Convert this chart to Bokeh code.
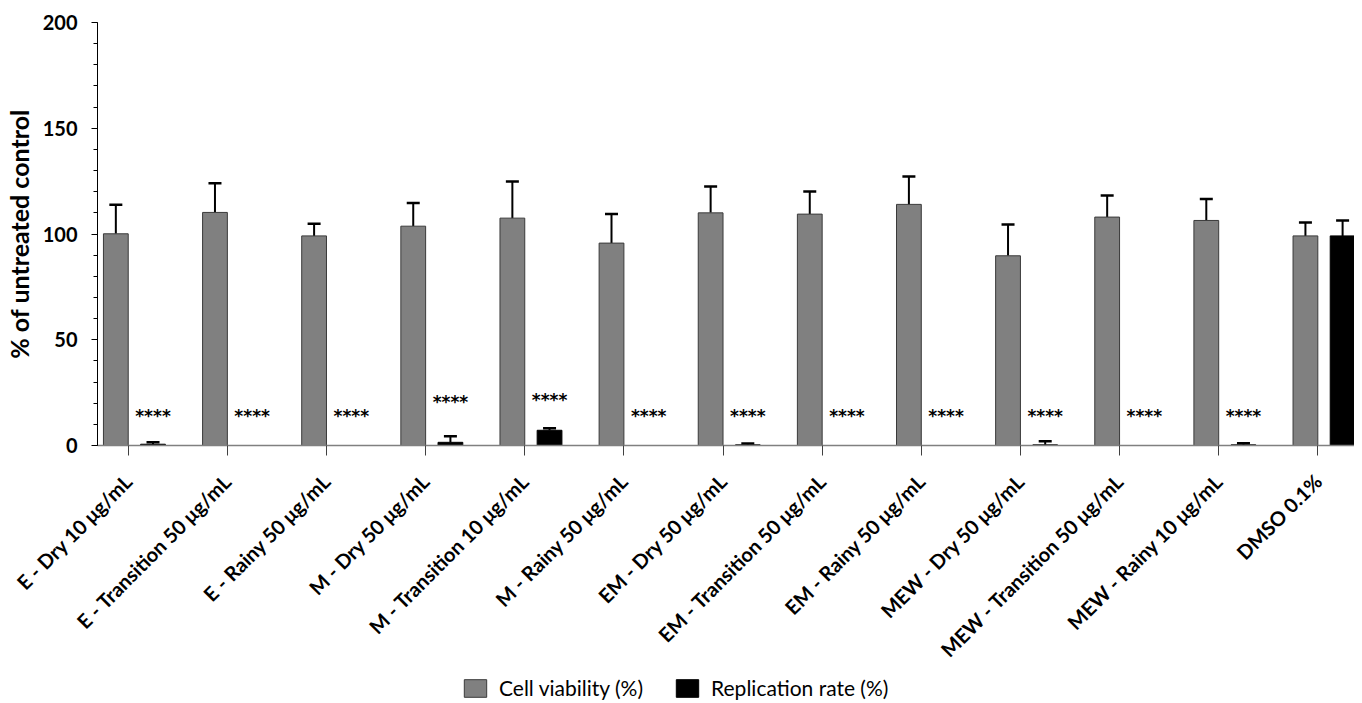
import math
import numpy as np
from bokeh.plotting import figure
from bokeh.layouts import column
from bokeh.models import (ColumnDataSource, FixedTicker, SingleIntervalTicker, Whisker,
                          TeeHead, Legend, LegendItem, Range1d)
from bokeh.core.properties import value
from bokeh.embed import file_html
from bokeh.resources import INLINE

# ---------------- data ----------------
categories = ["E - Dry 10 \u03bcg/mL", "E - Transition 50 \u03bcg/mL", "E - Rainy 50 \u03bcg/mL",
              "M - Dry 50 \u03bcg/mL", "M - Transition 10 \u03bcg/mL", "M - Rainy 50 \u03bcg/mL",
              "EM - Dry 50 \u03bcg/mL", "EM - Transition 50 \u03bcg/mL", "EM - Rainy 50 \u03bcg/mL",
              "MEW - Dry 50 \u03bcg/mL", "MEW - Transition 50 \u03bcg/mL", "MEW - Rainy 10 \u03bcg/mL",
              "DMSO 0.1%"]
viability = [100.1, 110.2, 99.1, 103.7, 107.5, 95.7, 110.0, 109.4, 114.0, 89.7, 108.0, 106.4, 99.1]
viability_sd = [13.7, 13.8, 5.7, 11.0, 17.3, 13.8, 12.5, 10.7, 13.2, 14.8, 10.2, 10.2, 6.3]
replication = [0.6, 0.0, 0.0, 1.5, 7.2, 0.0, 0.3, 0.0, 0.0, 0.3, 0.0, 0.3, 99.1]
replication_sd = [0.9, 0.0, 0.0, 2.9, 0.9, 0.0, 0.7, 0.0, 0.0, 1.7, 0.0, 0.8, 7.3]
significance = ["****"] * 12 + [""]
significance_y = [16, 16, 16, 22.5, 23.5, 16, 16, 16, 16, 16, 16, 16, 0]
series_names = ["Cell viability (%)", "Replication rate (%)"]

FONT = "Lato"
GRAY = "#808080"
TOTAL_W = 1346

idx = np.arange(len(categories))
bar_w = 0.25
x_via = idx - bar_w / 2
x_rep = idx + 0.125 + bar_w / 2

src_via = ColumnDataSource(dict(x=x_via, top=viability,
                                upper=np.array(viability) + np.array(viability_sd)))
src_rep = ColumnDataSource(dict(x=x_rep, top=replication,
                                upper=np.array(replication) + np.array(replication_sd)))
mask = np.array(replication_sd) > 0
src_rep_err = ColumnDataSource(dict(x=x_rep[mask], lower=np.array(replication)[mask],
                                    upper=(np.array(replication) + np.array(replication_sd))[mask]))
smask = np.array([s != "" for s in significance])
src_sig = ColumnDataSource(dict(x=x_rep[smask], y=np.array(significance_y)[smask],
                                t=[s for s in significance if s]))

p = figure(frame_width=1257, frame_height=423, output_backend="svg", toolbar_location=None,
           x_range=Range1d(-0.31, 12.37), y_range=Range1d(0, 200),
           min_border_left=89, min_border_right=0, min_border_top=22, min_border_bottom=228)
p.outline_line_color = None
p.xgrid.visible = False
p.ygrid.visible = False

r_via = p.vbar(x="x", top="top", width=bar_w, bottom=0, source=src_via,
               fill_color=GRAY, line_color="#3a3a3a", line_width=1)
r_rep = p.vbar(x="x", top="top", width=bar_w, bottom=0, source=src_rep,
               fill_color="black", line_color="black", line_width=1)

w1 = Whisker(base="x", lower="top", upper="upper", source=src_via, dimension="height",
             line_color="black", line_width=2, lower_head=None,
             upper_head=TeeHead(size=13, line_width=2.5, line_color="black"))
w2 = Whisker(base="x", lower="lower", upper="upper", source=src_rep_err, dimension="height",
             line_color="black", line_width=2, lower_head=None,
             upper_head=TeeHead(size=13, line_width=2.5, line_color="black"))
p.add_layout(w1)
p.add_layout(w2)

p.text(x="x", y="y", text="t", source=src_sig, text_align="center", text_baseline="middle",
       y_offset=4, text_font=value("DejaVu Sans"), text_font_size="17px",
       text_font_style="bold", text_color="black")

# y axis
ya = p.yaxis[0]
ya.ticker = SingleIntervalTicker(interval=50, num_minor_ticks=5)
ya.axis_line_color = "black"
ya.major_tick_out = 6
ya.major_tick_in = 0
ya.minor_tick_out = 4
ya.minor_tick_in = 0
ya.major_label_text_font = FONT
ya.major_label_text_font_style = "bold"
ya.major_label_text_font_size = "20px"
ya.major_label_text_color = "black"
ya.major_label_standoff = 14
ya.axis_label = "% of untreated control"
ya.axis_label_text_font = FONT
ya.axis_label_text_font_style = "bold"
ya.axis_label_text_font_size = "25px"
ya.axis_label_text_color = "black"
ya.axis_label_standoff = 6

# x axis
xa = p.xaxis[0]
xa.ticker = FixedTicker(ticks=list(idx))
xa.major_label_overrides = {int(i): c for i, c in zip(idx, categories)}
xa.axis_line_color = GRAY
xa.axis_line_width = 1.5
xa.major_tick_out = 10
xa.major_tick_in = 0
xa.major_tick_line_color = "#404040"
xa.minor_tick_line_color = None
xa.major_label_orientation = math.pi / 4
xa.major_label_text_font = FONT
xa.major_label_text_font_style = "bold"
xa.major_label_text_font_size = "20px"
xa.major_label_text_color = "black"
xa.major_label_standoff = 22

# legend in its own strip below the chart (swatches are hidden outside the strip's range)
lf = figure(width=TOTAL_W, height=28, output_backend="svg", toolbar_location=None,
            x_axis_type=None, y_axis_type=None, x_range=Range1d(0, 1), y_range=Range1d(0, 1),
            min_border=0)
lf.outline_line_color = None
lf.xgrid.visible = False
lf.ygrid.visible = False
lr1 = lf.vbar(x=[-5], top=[-5], bottom=[-6], width=0.1,
              fill_color=GRAY, line_color="#3a3a3a", line_width=1)
lr2 = lf.vbar(x=[-5], top=[-5], bottom=[-6], width=0.1,
              fill_color="black", line_color="black", line_width=1)
legend = Legend(items=[LegendItem(label=series_names[0], renderers=[lr1]),
                       LegendItem(label=series_names[1], renderers=[lr2])],
                orientation="horizontal", location=(364, 1),
                label_text_font=FONT, label_text_font_size="21px", label_text_color="black",
                glyph_width=28, glyph_height=22, label_standoff=10, spacing=30,
                label_height=20, padding=0, margin=0, border_line_color=None,
                background_fill_alpha=0)
lf.add_layout(legend, "center")

layout = column(p, lf, spacing=0)
open("out.html", "w").write(file_html(layout, INLINE))
